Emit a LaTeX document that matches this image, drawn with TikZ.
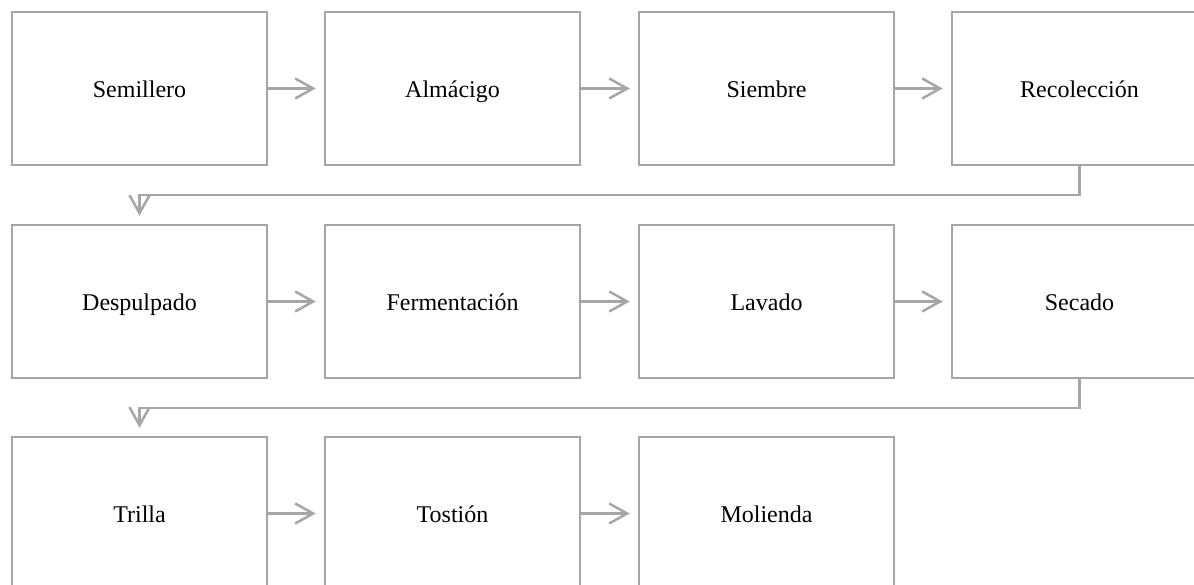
\documentclass[tikz,border=0pt]{standalone}
\usepackage{fontspec}
\setmainfont{Liberation Serif}
\usetikzlibrary{arrows.meta}
\begin{document}
\begin{tikzpicture}[x=1pt,y=-1pt,
  stepbox/.style={draw=linegray,line width=2.5pt,minimum width=255pt,minimum height=153pt,inner sep=0pt,font=\fontsize{24}{28}\selectfont,text height=22pt,text depth=5pt,anchor=center},
  conn/.style={draw=linegray,line width=2.5pt,-{Straight Barb[length=18pt,width=20pt,line width=2.5pt]}}]
\definecolor{linegray}{HTML}{A6A6A6}
\clip (0,0) rectangle (1194,584);
\useasboundingbox (0,0) rectangle (1194,584);
\node[stepbox] (a1) at (139.5,88.5) {Semillero};
\node[stepbox] (a2) at (452.5,88.5) {Almácigo};
\node[stepbox] (a3) at (766.5,88.5) {Siembre};
\node[stepbox] (a4) at (1079.5,88.5) {Recolección};
\node[stepbox] (b1) at (139.5,301.5) {Despulpado};
\node[stepbox] (b2) at (452.5,301.5) {Fermentación};
\node[stepbox] (b3) at (766.5,301.5) {Lavado};
\node[stepbox] (b4) at (1079.5,301.5) {Secado};
\node[stepbox] (c1) at (139.5,513.5) {Trilla};
\node[stepbox] (c2) at (452.5,513.5) {Tostión};
\node[stepbox] (c3) at (766.5,513.5) {Molienda};
\foreach \p/\q in {a1/a2,a2/a3,a3/a4,b1/b2,b2/b3,b3/b4,c1/c2,c2/c3}{
  \draw[conn,shorten >=8pt] (\p.east) -- (\q.west);
}
\coordinate (k1) at (1079.5,195);
\coordinate (k2) at (139.5,195);
\coordinate (k3) at (1079.5,408);
\coordinate (k4) at (139.5,408);
\draw[conn,shorten >=8pt] (a4.south) -- (k1) -- (k2) -- (b1.north);
\draw[conn,shorten >=8pt] (b4.south) -- (k3) -- (k4) -- (c1.north);
\end{tikzpicture}
\end{document}
